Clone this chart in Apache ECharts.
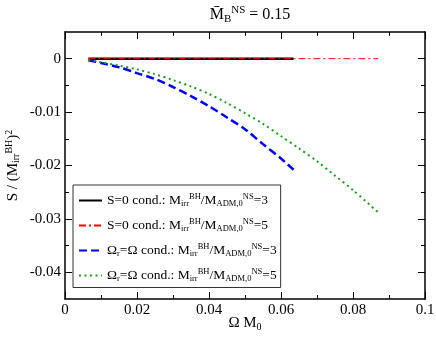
<!DOCTYPE html>
<html>
<head>
<meta charset="utf-8">
<script src="https://cdn.jsdelivr.net/npm/echarts@6/dist/echarts.min.js"></script>
<style>
  html, body { margin: 0; padding: 0; background: #fff; }
  #chart { width: 436px; height: 337px; }
</style>
</head>
<body>
<div id="chart"></div>
<script>
// S=0 condition curves (flat at zero)
const s0Ratio3X = [0.0065, 0.02, 0.04, 0.0635];
const s0Ratio3Y = [0, 0, 0, 0];
const s0Ratio5X = [0.0065, 0.02, 0.04, 0.06, 0.087];
const s0Ratio5Y = [0, 0, 0, 0, 0];

// Omega_r = Omega condition curves
const omRatio3X = [0.0065, 0.010, 0.015, 0.020, 0.025, 0.030, 0.035, 0.040, 0.045, 0.050, 0.055, 0.060, 0.0635];
const omRatio3Y = [-0.0003, -0.0008, -0.0016, -0.0027, -0.0038, -0.0053, -0.0070, -0.0089, -0.0110, -0.0132, -0.0160, -0.0187, -0.0208];
const omRatio5X = [0.0065, 0.0095, 0.015, 0.020, 0.025, 0.030, 0.035, 0.040, 0.045, 0.050, 0.055, 0.060, 0.065, 0.070, 0.075, 0.080, 0.0872];
const omRatio5Y = [-0.0002, -0.0006, -0.0013, -0.0020, -0.0029, -0.0040, -0.0052, -0.0066, -0.0083, -0.0102, -0.0122, -0.0145, -0.0168, -0.0192, -0.0219, -0.0246, -0.0289];

const yMajor = [-0.04, -0.03, -0.02, -0.01, 0];
const yMinor = [-0.035, -0.025, -0.015, -0.005];

const legendText = {
  s0r3: '{a|S=0 cond.: M}{sub|irr}{sup|BH}{a|/M}{sub|ADM,0}{sup|NS}{a|=3}',
  s0r5: '{a|S=0 cond.: M}{sub|irr}{sup|BH}{a|/M}{sub|ADM,0}{sup|NS}{a|=5}',
  omr3: '{a|\u03A9}{sub|r}{a|=\u03A9 cond.: M}{sub|irr}{sup|BH}{a|/M}{sub|ADM,0}{sup|NS}{a|=3}',
  omr5: '{a|\u03A9}{sub|r}{a|=\u03A9 cond.: M}{sub|irr}{sup|BH}{a|/M}{sub|ADM,0}{sup|NS}{a|=5}'
};

const zip = (xs, ys) => xs.map((x, i) => [x, ys[i]]);

const FONT = 'Liberation Serif';
const makeRich = (big, small, up, down) => ({
  a: { fontFamily: FONT, fontSize: big, fontWeight: 'normal', color: '#000' },
  sub: { fontFamily: FONT, fontSize: small, fontWeight: 'normal', color: '#000', padding: [down, 0, 0, 0] },
  sup: { fontFamily: FONT, fontSize: small, fontWeight: 'normal', color: '#000', padding: [0, 0, up, 0] }
});
const legendRich = makeRich(13.5, 8.5, 8, 7);
const nameRich = makeRich(15, 10, 8, 7);
const bigRich = makeRich(16, 11, 9, 8);

const chart = echarts.init(document.getElementById('chart'));

const axisLine = { show: true, onZero: false, lineStyle: { color: '#000', width: 1.5 } };
const plainY = (position, values, len, withLine) => ({
  type: 'value', position, min: -0.045, max: 0.005,
  axisLine: withLine ? axisLine : { show: false, onZero: false },
  axisTick: { show: true, inside: true, length: len, customValues: values, lineStyle: { color: '#000', width: 1 } },
  axisLabel: { show: false },
  splitLine: { show: false }
});

chart.setOption({
  animation: false,
  title: {
    text: '{a|M\u0304}{sub|B}{sup|NS}{a| = 0.15}',
    left: 245, top: 0, textAlign: 'center',
    textStyle: { fontWeight: 'normal', rich: bigRich }
  },
  grid: { left: 65, right: 11, top: 32, bottom: 38, containLabel: false, outerBoundsMode: 'none' },
  legend: {
    orient: 'vertical', left: 73, top: 185,
    padding: [7, 4, 4, 5], itemGap: 8.5,
    itemWidth: 23, itemHeight: 14,
    borderColor: '#333', borderWidth: 1,
    backgroundColor: '#fff',
    itemStyle: { color: 'transparent', borderWidth: 0, opacity: 0 },
    data: ['s0r3', 's0r5', 'omr3', 'omr5'],
    formatter: name => legendText[name],
    textStyle: { rich: legendRich }
  },
  xAxis: [
    {
      type: 'value', position: 'bottom', min: 0, max: 0.1, interval: 0.02,
      name: '{a|\u03A9 M}{sub|0}', nameLocation: 'middle', nameGap: 16, nameMoveOverlap: false,
      nameTextStyle: { rich: nameRich },
      axisLine,
      axisTick: { inside: true, length: 7, lineStyle: { color: '#000' } },
      minorTick: { show: true, splitNumber: 2, length: 4, lineStyle: { color: '#000' } },
      axisLabel: { fontFamily: FONT, fontSize: 15, color: '#000', margin: 4, formatter: v => String(+v.toFixed(2)) },
      splitLine: { show: false }, minorSplitLine: { show: false }
    },
    {
      type: 'value', position: 'top', min: 0, max: 0.1, interval: 0.02,
      axisLine,
      axisTick: { inside: true, length: 7, lineStyle: { color: '#000' } },
      minorTick: { show: true, splitNumber: 2, length: 4, lineStyle: { color: '#000' } },
      axisLabel: { show: false },
      splitLine: { show: false }
    }
  ],
  yAxis: [
    {
      type: 'value', position: 'left', min: -0.045, max: 0.005,
      name: '{a|S / (M}{sub|irr}{sup|BH}{a|)}{sup|2}', nameLocation: 'middle', nameGap: 43, nameRotate: 90, nameMoveOverlap: false,
      nameTextStyle: { rich: nameRich },
      axisLine,
      axisTick: { show: true, inside: true, length: 7, customValues: yMajor, lineStyle: { color: '#000' } },
      axisLabel: { fontFamily: FONT, fontSize: 15, color: '#000', margin: 4, customValues: yMajor, formatter: v => String(+v.toFixed(2)) },
      splitLine: { show: false }
    },
    plainY('left', yMinor, 4, false),
    plainY('right', yMajor, 7, true),
    plainY('right', yMinor, 4, false)
  ],
  series: [
    {
      name: 's0r3', type: 'line', symbol: 'none', data: zip(s0Ratio3X, s0Ratio3Y),
      lineStyle: { color: '#000', width: 2.5 }, itemStyle: { color: '#000' }
    },
    {
      name: 's0r5', type: 'line', symbol: 'none', data: zip(s0Ratio5X, s0Ratio5Y),
      lineStyle: { color: '#ff0000', width: 1, type: [7, 3, 2, 3] }, itemStyle: { color: '#ff0000' }
    },
    {
      name: 'omr3', type: 'line', symbol: 'none', smooth: 0.3, data: zip(omRatio3X, omRatio3Y),
      lineStyle: { color: '#0000ff', width: 2.5, type: [8, 4] }, itemStyle: { color: '#0000ff' }
    },
    {
      name: 'omr5', type: 'line', symbol: 'none', smooth: 0.3, data: zip(omRatio5X, omRatio5Y),
      lineStyle: { color: '#1a9e1a', width: 2, type: [2, 3.5] }, itemStyle: { color: '#1a9e1a' }
    }
  ]
});
</script>
</body>
</html>
